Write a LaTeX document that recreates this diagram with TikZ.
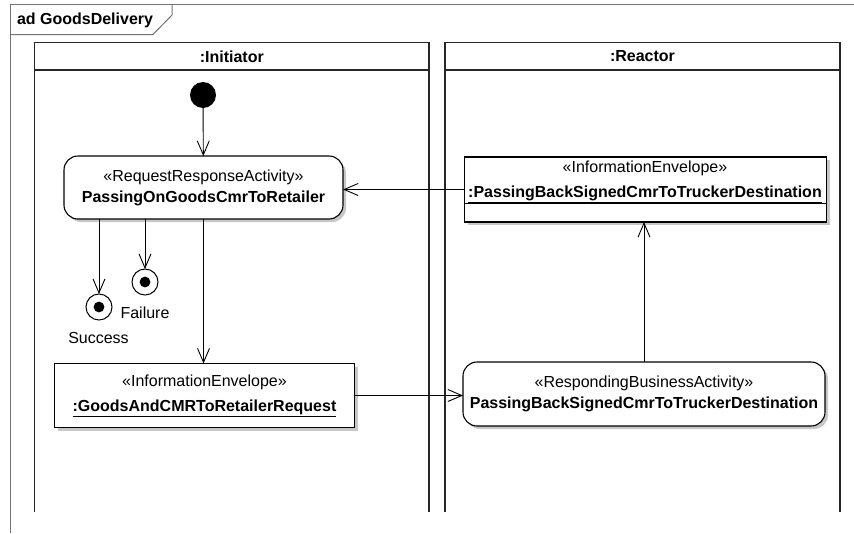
\documentclass[tikz,border=0pt]{standalone}
\usepackage{fontspec}
\setmainfont{Liberation Sans}
\usetikzlibrary{arrows.meta,backgrounds}
\begin{document}
\begin{tikzpicture}[x=1pt,y=-1pt,
  every node/.style={font=\fontsize{16}{21}\selectfont, inner sep=0pt, outer sep=0pt},
  frameline/.style={draw=black!55, line width=1pt},
  laneline/.style={draw=black!85, line width=1.8pt},
  shadowfill/.style={fill=black!22},
  actbox/.style={draw, line width=1.1pt, rounded corners=14pt, fill=white, align=center},
  envbox/.style={draw, line width=1.4pt, fill=white, align=center},
  flow/.style={draw, line width=0.9pt, -{Straight Barb[length=14pt,width=12pt,line width=0.9pt]}},
  startnode/.style={circle, fill=black, minimum size=26pt},
  endnode/.style={circle, draw, line width=1pt, fill=white, minimum size=26pt,
    path picture={\fill[black] (path picture bounding box.center) circle (5.4pt);}},
  lanetitle/.style={font=\fontsize{16}{21}\selectfont\bfseries}
]
\useasboundingbox (0,0) rectangle (854,533);

% frame
\draw[frameline] (854,4.5) -- (10.5,4.5) -- (10.5,533);
\draw[frameline] (10.5,34.5) -- (153,34.5) -- (172,15) -- (172,4.5);
\node[anchor=west, font=\fontsize{16}{21}\selectfont\bfseries] (title) at (17,20) {ad GoodsDelivery};

% lanes
\draw[laneline] (34.5,512) -- (34.5,42.5) -- (429,42.5) -- (429,512);
\draw[laneline] (34.5,70) -- (429,70);
\node[lanetitle] (laneA) at (231.75,56.5) {:Initiator};
\draw[laneline] (445,512) -- (445,42.5) -- (840,42.5) -- (840,512);
\draw[laneline] (445,70) -- (840,70);
\node[lanetitle] (laneB) at (642.5,56.5) {:Reactor};

% nodes
\node[startnode] (init) at (203,95) {};
\node[actbox, minimum width=279pt, minimum height=63pt] (act1) at (203.5,187.5)
  {«RequestResponseActivity»\\\textbf{PassingOnGoodsCmrToRetailer}};
\node[endnode] (succ) at (99,307) {};
\node[endnode] (fail) at (145,282) {};
\node (succl) at (98.5,338) {Success};
\node (faill) at (145,313) {Failure};
\node[envbox, minimum width=300pt, minimum height=64pt] (env1) at (204.5,395.5)
  {«InformationEnvelope»\\[4pt]\underline{\textbf{:GoodsAndCMRToRetailerRequest}}};
\node[actbox, minimum width=362pt, minimum height=64pt] (act2) at (644,394)
  {«RespondingBusinessActivity»\\\textbf{PassingBackSignedCmrToTruckerDestination}};
\node[envbox, minimum width=362pt, minimum height=65pt] (env2) at (645.5,189.5) {};
\node[align=center] (env2t) at (645,181.5)
  {«InformationEnvelope»\\[4pt]\underline{\textbf{:PassingBackSignedCmrToTruckerDestination}}};
\draw[line width=1.1pt] (env2.west |- 0,203.5) -- (env2.east |- 0,203.5);

% shadows
\begin{scope}[on background layer]
  \fill[shadowfill, rounded corners=14pt] ([shift={(3pt,-3pt)}]act1.north west) rectangle ([shift={(3pt,-3pt)}]act1.south east);
  \fill[shadowfill, rounded corners=14pt] ([shift={(3pt,-3pt)}]act2.north west) rectangle ([shift={(3pt,-3pt)}]act2.south east);
  \fill[shadowfill] ([shift={(3pt,-3pt)}]env1.north west) rectangle ([shift={(3pt,-3pt)}]env1.south east);
  \fill[shadowfill] ([shift={(3pt,-3pt)}]env2.north west) rectangle ([shift={(3pt,-3pt)}]env2.south east);
\end{scope}

% connectors
\draw[flow] (init) -- (act1);
\draw[flow] (act1.south -| succ.north) -- (succ.north);
\draw[flow] (act1.south -| fail.north) -- (fail.north);
\draw[flow] (act1.south) -- (act1.south |- env1.north);
\draw[flow] (env1.east) -- (env1.east -| act2.west);
\draw[flow] (act2.north) -- (act2.north |- env2.south);
\draw[flow] (env2.west) -- (env2.west -| act1.east);
\end{tikzpicture}
\end{document}
